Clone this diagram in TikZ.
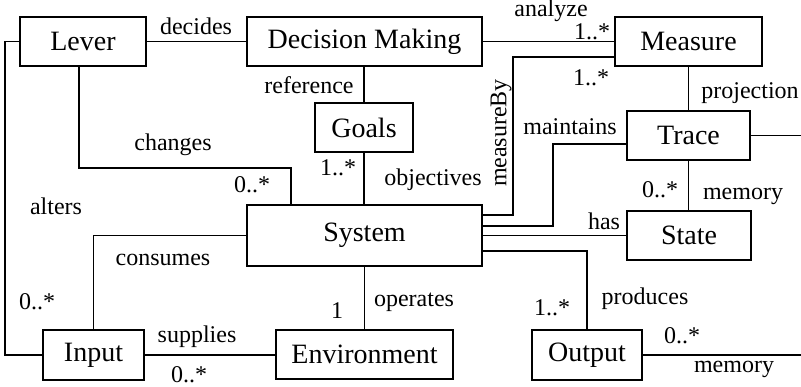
\documentclass[tikz,border=0pt]{standalone}
\usepackage{fontspec}
\setmainfont{Liberation Serif}
\begin{document}
\begin{tikzpicture}[x=0.5pt,y=-0.5pt,
  box/.style={draw,line width=1pt,inner sep=0pt,font=\fontsize{14}{16}\selectfont},
  conn/.style={line width=0.7pt},
  lbl/.style={inner sep=0pt,font=\fontsize{12}{14}\selectfont}]
\useasboundingbox (0,0) rectangle (801,386);
\clip (0,0) rectangle (801,386);

% classes
\node[box,minimum width=63pt,minimum height=24.5pt] (lever) at (83,41.5) {Lever};
\node[box,minimum width=117.5pt,minimum height=24.5pt] (decision) at (364.5,41.5) {Decision Making};
\node[box,minimum width=73.5pt,minimum height=24.5pt] (measure) at (688.5,41.5) {Measure};
\node[box,minimum width=49pt,minimum height=24.5pt] (goals) at (364,127.5) {Goals};
\node[box,minimum width=61.5pt,minimum height=24.5pt] (trace) at (688.5,135.5) {Trace};
\node[box,minimum width=117.5pt,minimum height=30.5pt] (system) at (364.5,235.5) {System};
\node[box,minimum width=62pt,minimum height=24.5pt] (state) at (689,235.5) {State};
\node[box,minimum width=50.5pt,minimum height=25pt] (input) at (93.5,355) {Input};
\node[box,minimum width=88.5pt,minimum height=24.5pt] (environment) at (364.5,354.5) {Environment};
\node[box,minimum width=55pt,minimum height=25pt] (output) at (587,355) {Output};

% associations
\draw[conn] (lever) -- (decision);
\draw[conn] (lever.west) -- ++(-14,0) |- (input.west);
\draw[conn] ([xshift=-2pt]lever.south) -- ++(0,101) -| ([xshift=-36.75pt]system.north);
\draw[conn] (goals.north |- decision.south) -- (goals.north);
\draw[conn] (goals.south) -- (goals.south |- system.north);
\draw[conn] (system.south) -- (system.south |- environment.north);
\draw[conn] (decision.east) -- (decision.east -| measure.west);
\draw[conn] ([yshift=-7.75pt]measure.west) -- ++(-101,0) |- ([yshift=10.25pt]system.east);
\draw[conn] (measure.south) -- (trace.north);
\draw[conn] ([yshift=-4.25pt]trace.west) -- ++(-73,0) |- ([yshift=4.75pt]system.east);
\draw[conn] (trace.south) -- (trace.south |- state.north);
\draw[conn] (system.east) -- (state.west);
\draw[conn] ([yshift=-7.75pt]system.east) -| (output.north);
\draw[conn] (system.west) -| (input.north);
\draw[conn] (input.east) -- (input.east -| environment.west);
% memory link between Trace and Output runs along the right edge
\draw[conn] (trace.east) -- ++(51,0) coordinate (rail) |- (output.east);

% role names and multiplicities
\node[lbl] (l1) at (196,26) {decides};
\node[lbl] (l2) at (309,85) {reference};
\node[lbl] (l3) at (173,145) {changes};
\node[lbl] (l4) at (252,185) {0..*};
\node[lbl] (l5) at (338,168) {1..*};
\node[lbl] (l6) at (433,180) {objectives};
\node[lbl,rotate=90] (l7) at (501,133) {measureBy};
\node[lbl] (l8) at (551,11) {analyze};
\node[lbl] (l9) at (592,32) {1..*};
\node[lbl] (l10) at (591,78) {1..*};
\node[lbl] (l11) at (750,93) {projection};
\node[lbl] (l12) at (570,127) {maintains};
\node[lbl] (l13) at (660,190) {0..*};
\node[lbl] (l14) at (743,196) {memory};
\node[lbl] (l15) at (604,221) {has};
\node[lbl] (l16) at (56,206) {alters};
\node[lbl] (l17) at (163,260) {consumes};
\node[lbl] (l18) at (37,302) {0..*};
\node[lbl] (l19) at (337,311) {1};
\node[lbl] (l20) at (414,302) {operates};
\node[lbl] (l21) at (197,337) {supplies};
\node[lbl] (l22) at (189,375) {0..*};
\node[lbl] (l23) at (552,308) {1..*};
\node[lbl] (l24) at (645,299) {produces};
\node[lbl] (l25) at (682,336) {0..*};
\node[lbl] (l26) at (734,369) {memory};
\end{tikzpicture}
\end{document}
